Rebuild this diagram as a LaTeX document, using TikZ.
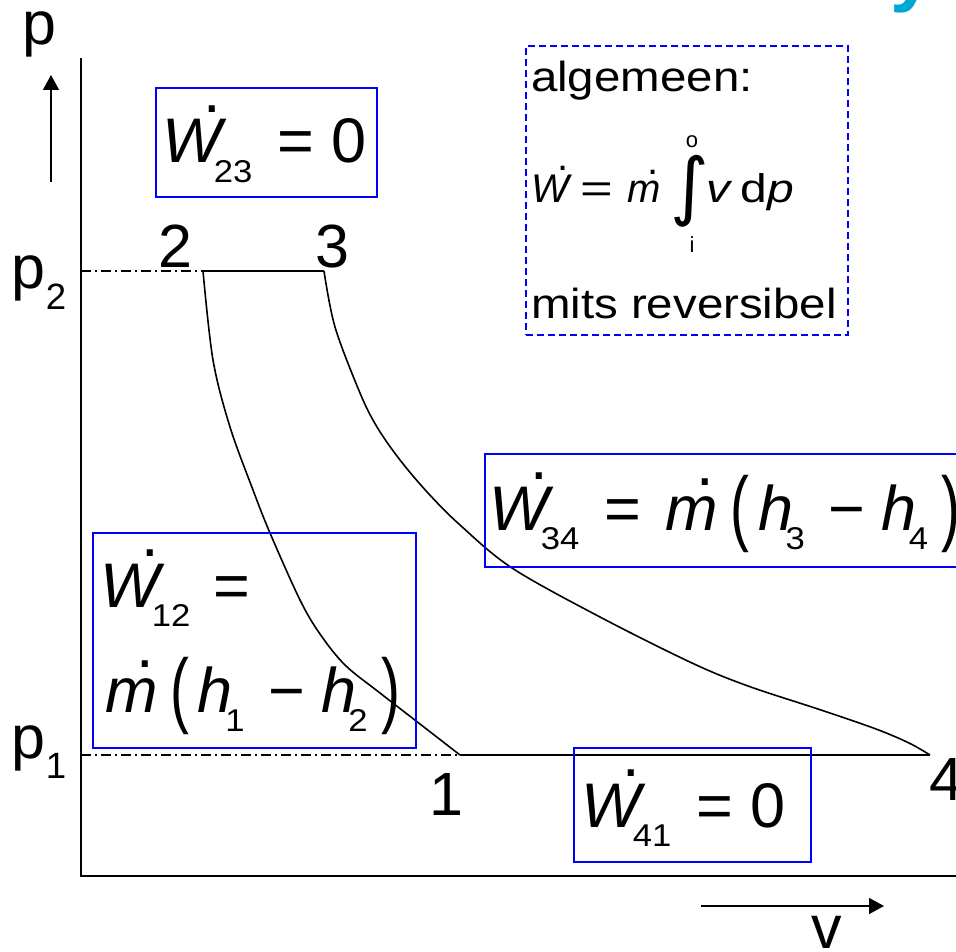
\documentclass[tikz,border=0pt]{standalone}
\usepackage{fontspec}
\usepackage{graphicx}
\setmainfont{Liberation Sans}
\newfontfamily\djv{DejaVu Sans}
\usetikzlibrary{arrows.meta}
\definecolor{boxblue}{RGB}{0,0,255}
\definecolor{titlecyan}{RGB}{0,166,214}
% dot accent: #1 horizontal shift, #2 raise, #3 letter
\newcommand\dotabove[3]{\leavevmode\setbox0\hbox{#3}\hbox{\rlap{\kern#1\hbox to\wd0{\hss\raisebox{#2}{.}\hss}}\box0}}
\newcommand\Wdot{\dotabove{0.33em}{0.8em}{\itshape W}}
\newcommand\mdot{\dotabove{0.22em}{0.7em}{\itshape m}}
\newcommand\subs[1]{\kern-0.12em\raisebox{-0.31em}{\scalebox{0.55}[0.5]{#1}}}
\newcommand\bigparen[1]{\raisebox{-0.08em}{\scalebox{0.9}[1.32]{#1}}}
\newcommand\ffont{\fontsize{63}{72}\selectfont}
\newcommand\lfont{\fontsize{61}{70}\selectfont}
\newcommand\Wzero[1]{\Wdot\subs{#1}\hspace{0.4em}=\hspace{0.27em}0}
\newcommand\hdiff[2]{\mdot\hspace{0.2em}\bigparen{(}\hspace{0.14em}{\itshape h}\subs{#1}\hspace{0.38em}−\hspace{0.25em}{\itshape h}\subs{#2}\hspace{0.22em}\bigparen{)}}
\newcommand\lsub[2]{\raisebox{-#2}{\scalebox{0.6}{#1}}}
\begin{document}
\begin{tikzpicture}[x=1pt,y=-1pt,
  txt/.style={inner sep=0pt, outer sep=0pt},
  wbox/.style={draw=boxblue, line width=2pt, inner sep=0pt, outer sep=0pt, anchor=north west},
  genbox/.style={wbox, dash pattern=on 7pt off 4pt},
  axisline/.style={line width=2pt},
  curveline/.style={line width=1.6pt},
  levelline/.style={line width=1.2pt, dash pattern=on 10pt off 4pt on 2pt off 4pt},
  dirarrow/.style={line width=1.6pt, -{Triangle[length=15pt,width=16pt]}}]
\useasboundingbox (0,0) rectangle (956,952);
\clip (0,0) rectangle (956,952);
% cut-off title letter
\node[txt, text=titlecyan, anchor=base, font=\fontsize{80}{90}\selectfont\bfseries] (ttl) at (913,-3) {y};
% axes
\coordinate (Ytop) at (81,58);
\coordinate (O) at (81,876);
\coordinate (Xend) at (962,876);
\draw[axisline] (Ytop) -- (O) -- (Xend);
% direction arrows
\coordinate (pa0) at (51,182);
\coordinate (pa1) at (51,75);
\draw[dirarrow] (pa0) -- (pa1);
\coordinate (va0) at (701,906);
\coordinate (va1) at (884,906);
\draw[dirarrow] (va0) -- (va1);
% state points
\coordinate (P2) at (203,271);
\coordinate (P3) at (324,271);
\coordinate (P1) at (460,755);
\coordinate (P4) at (930,755);
\coordinate (L2) at (81,271);
\coordinate (L1) at (81,755);
\draw[levelline] (L2) -- (P2);
\draw[levelline] (L1) -- (P1);
\draw[curveline] (P2) -- (P3);
\draw[curveline] (P1) -- (P4);
\draw[curveline] plot[smooth, tension=0.55] coordinates {(P2) (213,360) (230,427) (253,490) (270,533) (300,600) (320,634) (345,665) (380,693) (420,724) (P1)};
\draw[curveline] plot[smooth, tension=0.55] coordinates {(P3) (335,327) (360,393) (377,427) (400,460) (428,493) (460,525) (512,568) (600,617) (692,663) (748,686) (821,710) (876,729) (909,743) (P4)};
% axis labels
\node[txt, anchor=base, font=\lfont] (lp) at (39,45) {p};
\node[txt, anchor=base, font=\lfont] (lv) at (827,948) {v};
\node[txt, anchor=base west, font=\lfont] (lp2) at (12,288) {p\lsub{2}{0.36em}};
\node[txt, anchor=base west, font=\lfont] (lp1) at (12,758) {p\lsub{1}{0.33em}};
\node[txt, anchor=base, font=\lfont] (n2) at (175,268) {2};
\node[txt, anchor=base, font=\lfont] (n3) at (332,268) {3};
\node[txt, anchor=base, font=\lfont] (n1) at (446,815) {1};
\node[txt, anchor=base west, font=\lfont] (n4) at (929,800) {4};
% boxes
\node[wbox, minimum width=221, minimum height=109] (b23) at (156,88) {};
\node[wbox, minimum width=323, minimum height=215] (b12) at (93,533) {};
\node[wbox, minimum width=520, minimum height=113] (b34) at (485,454) {};
\node[wbox, minimum width=237, minimum height=114] (b41) at (574,748) {};
\node[genbox, minimum width=322, minimum height=289] (bg) at (526,46) {};
% formulas
\node[txt, anchor=base west, font=\ffont] (f23) at (162,163) {\Wzero{23}};
\node[txt, anchor=base west, font=\ffont] (f41) at (581,827) {\Wzero{41}};
\node[txt, anchor=base west, font=\ffont] (f12a) at (100,607) {\Wdot\subs{12}\hspace{0.37em}=};
\node[txt, anchor=base west, font=\ffont] (f12b) at (105,712) {\hdiff{1}{2}};
\node[txt, anchor=base west, font=\ffont] (f34) at (489,530) {\Wdot\subs{34}\hspace{0.4em}=\hspace{0.38em}\hdiff{3}{4}};
% general formula
\node[txt, anchor=base west] (galg) at (531,92) {\scalebox{1.13}[1]{\fontsize{42}{48}\selectfont algemeen:}};
\node[txt, anchor=base west] (gmits) at (531,318) {\scalebox{1.13}[1]{\fontsize{42}{48}\selectfont mits reversibel}};
\node[txt, anchor=base west, font=\fontsize{40}{46}\selectfont] (gW) at (531,203) {\Wdot\hspace{0.3em}\scalebox{1.4}[1]{=}\hspace{0.35em}\mdot};
\node[txt] (gint) at (690,191) {\resizebox*{!}{72pt}{\djv ∫}};
\node[txt, anchor=base, font=\fontsize{22}{26}\selectfont] (go) at (692,148) {o};
\node[txt, anchor=base, font=\fontsize{22}{26}\selectfont] (gi) at (692,253) {i};
\node[txt, anchor=base west] (gv) at (706,203) {\scalebox{1.2}[1]{\fontsize{40}{46}\selectfont{\itshape v}\hspace{0.22em}d{\itshape p}}};
\end{tikzpicture}
\end{document}
